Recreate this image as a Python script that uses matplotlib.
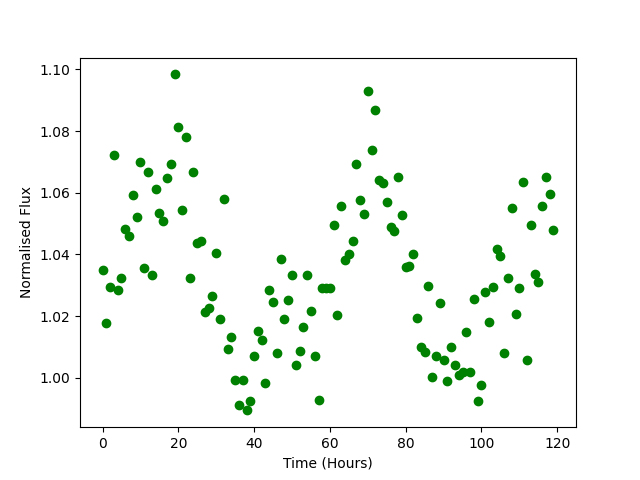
import numpy as np
import matplotlib
matplotlib.use("Agg")
import matplotlib.pyplot as plt

hours = np.arange(120)

flux = [
    1.0351, 1.0176, 1.0293, 1.0721, 1.0283, 1.0322, 1.0482, 1.0460, 1.0592, 1.0523,
    1.0699, 1.0355, 1.0666, 1.0332, 1.0611, 1.0534, 1.0507, 1.0647, 1.0692, 1.0984,
    1.0812, 1.0543, 1.0780, 1.0325, 1.0666, 1.0438, 1.0445, 1.0212, 1.0225, 1.0264,
    1.0403, 1.0189, 1.0579, 1.0092, 1.0131, 0.9991, 0.9913, 0.9994, 0.9894, 0.9926,
    1.0070, 1.0153, 1.0124, 0.9984, 1.0283, 1.0247, 1.0079, 1.0384, 1.0192, 1.0252,
    1.0332, 1.0040, 1.0088, 1.0166, 1.0332, 1.0215, 1.0070, 0.9929, 1.0290, 1.0290,
    1.0290, 1.0497, 1.0205, 1.0557, 1.0381, 1.0401, 1.0442, 1.0692, 1.0575, 1.0530,
    1.0929, 1.0738, 1.0868, 1.0641, 1.0632, 1.0569, 1.0490, 1.0477, 1.0650, 1.0527,
    1.0358, 1.0361, 1.0400, 1.0195, 1.0101, 1.0085, 1.0299, 1.0001, 1.0072, 1.0244,
    1.0056, 0.9988, 1.0101, 1.0040, 1.0010, 1.0020, 1.0147, 1.0017, 1.0257, 0.9926,
    0.9978, 1.0277, 1.0182, 1.0293, 1.0417, 1.0394, 1.0079, 1.0322, 1.0549, 1.0208,
    1.0290, 1.0634, 1.0059, 1.0494, 1.0335, 1.0309, 1.0556, 1.0650, 1.0595, 1.0478,
]

fig, ax = plt.subplots(figsize=(6.4, 4.8), dpi=100)
ax.plot(hours, flux, 'go')

ax.set_xlabel('Time (Hours)')
ax.set_ylabel('Normalised Flux')

fig.savefig('out.png')
